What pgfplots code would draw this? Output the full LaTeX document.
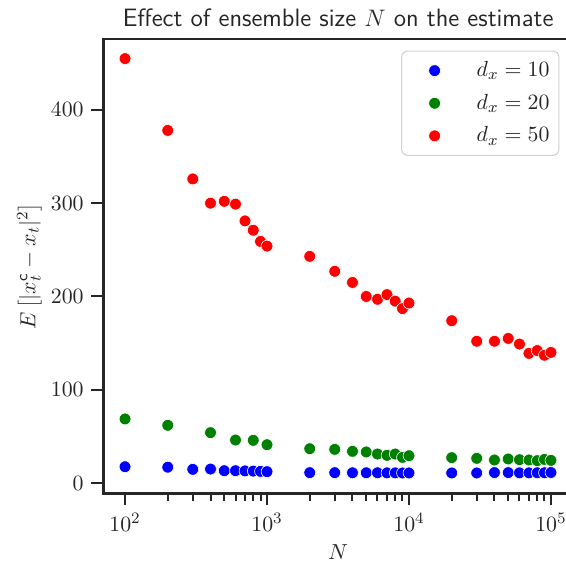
\documentclass[border=0pt]{standalone}
\usepackage{pgfplots}
\pgfplotsset{compat=1.18}
\definecolor{axgray}{HTML}{262626}
\begin{document}
\fontsize{11}{13.2}\selectfont
\begin{tikzpicture}
\begin{axis}[
  scale only axis,
  width=234.85bp, height=227.15bp,
  xmode=log,
  xmin=70.3, xmax=1.43e5,
  ymin=-11, ymax=476,
  xtick={1e2,1e3,1e4,1e5},
  ytick={0,100,200,300,400},
  tick pos=left,
  tick align=outside,
  major tick length=6bp,
  minor tick length=3.8bp,
  every tick/.style={axgray, line width=1bp},
  axis line style={axgray, line width=1.35bp},
  tick label style={color=axgray, font=\fontsize{11}{13.2}\selectfont},
  label style={color=axgray, font=\fontsize{11}{13.2}\selectfont},
  xlabel={$N$},
  xlabel style={at={(axis description cs:0.5,0)}, anchor=center, yshift=-29.35bp},
  ylabel={$E\left[|x^{\mathsf{c}}_t - x_t|^2\right]$},
  ylabel style={at={(axis description cs:0,0.5)}, anchor=center, yshift=36.9bp},
  title={\sffamily Effect of ensemble size $N$ on the estimate},
  title style={color=axgray, font=\fontsize{12.6}{15}\selectfont, yshift=-3.9bp},
  legend style={at={(0.9708,0.9742)}, anchor=north east, draw=black!18, rounded corners=2.5bp, line width=0.5bp, font=\fontsize{11}{13.2}\selectfont, row sep=3.1bp, inner xsep=2.65bp, inner ysep=3.1bp, text=axgray},
  legend cell align=left,
  legend image code/.code={\path (0bp,-2bp) (32.35bp,2bp); \draw[#1] plot coordinates {(13.55bp,0bp)};},
]
\addplot[only marks, mark=*, mark size=2.95bp, mark options={fill=blue, draw=white, line width=0.3bp}] coordinates {
(100,17.5) (200,17) (300,14.7) (400,15) (500,13.2) (600,13.2) (700,13.0) (800,12.8) (900,12.5) (1000,12.2)
(2000,11.1) (3000,11.1) (4000,11.0) (5000,11.0) (6000,11.0) (7000,10.9) (8000,10.9) (9000,10.8) (10000,10.8)
(20000,10.8) (30000,10.8) (40000,11.2) (50000,11.2) (60000,10.9) (70000,10.9) (80000,11.0) (90000,11.0) (100000,11.3)
};
\addlegendentry{$d_x = 10$}
\addplot[only marks, mark=*, mark size=2.95bp, mark options={fill=black!50!green, draw=white, line width=0.3bp}] coordinates {
(100,68.7) (200,61.9) (400,54) (600,46.1) (800,45.8) (1000,41.1)
(2000,36.8) (3000,36.1) (4000,34) (5000,33.3) (6000,31.1) (7000,29.7) (8000,31.1) (9000,27.5) (10000,29.3)
(20000,27.2) (30000,26.5) (40000,24.7) (50000,25.8) (60000,25) (70000,24.7) (80000,24) (90000,25.3) (100000,24.3)
};
\addlegendentry{$d_x = 20$}
\addplot[only marks, mark=*, mark size=2.95bp, mark options={fill=red, draw=white, line width=0.3bp}] coordinates {
(100,455) (200,378) (300,326) (400,300) (500,302) (600,299) (700,281) (800,271) (900,259) (1000,254)
(2000,243) (3000,227) (4000,215) (5000,200) (6000,197) (7000,202) (8000,195) (9000,187) (10000,193)
(20000,174) (30000,152) (40000,152) (50000,155) (60000,149) (70000,139) (80000,142) (90000,137) (100000,140)
};
\addlegendentry{$d_x = 50$}
\end{axis}
\pgfresetboundingbox
\path ([xshift=-51.65bp,yshift=-35.85bp]current axis.south west) rectangle ([xshift=231.35bp,yshift=19.5bp]current axis.north west);
\end{tikzpicture}
\end{document}
